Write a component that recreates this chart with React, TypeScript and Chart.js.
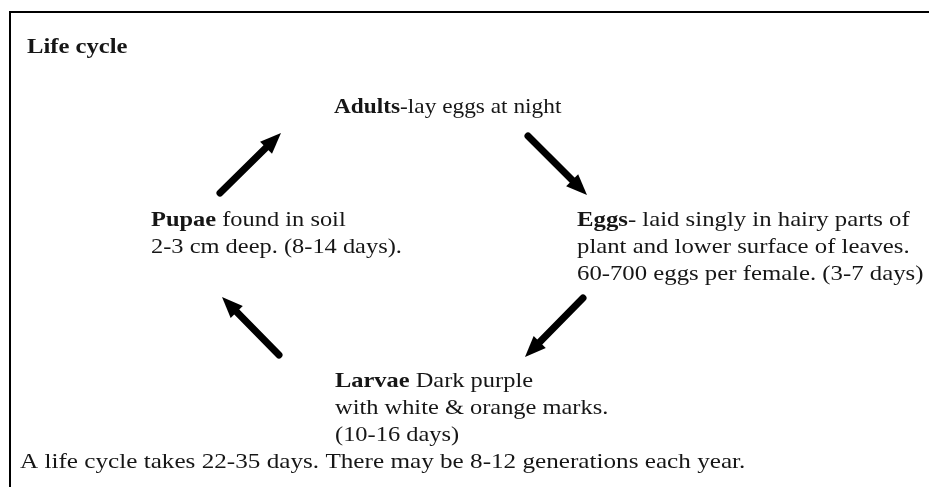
import React, { useEffect, useRef } from "react";
import { Chart, registerables } from "chart.js";

Chart.register(...registerables);

// ---- content ----
const titleText = "Life cycle";
const stageBold = ["Adults", "Eggs", "Larvae", "Pupae"];
const stageLines: string[][] = [
  ["-lay eggs at night"],
  [
    "- laid singly in hairy parts of",
    "plant and lower surface of leaves.",
    "60-700 eggs per female. (3-7 days)",
  ],
  [" Dark purple", "with white & orange marks.", "(10-16 days)"],
  [" found in soil", "2-3 cm deep. (8-14 days)."],
];
const footnote =
  "A life cycle takes 22-35 days. There may be 8-12 generations each year.";

// anchor points of each stage label (diagram coordinates)
const stageX = [334, 577, 335, 151];
const stageY = [106, 219, 380, 219];
const titleX = 27;
const titleY = 46;
const footX = 20;
const footY = 461;

// arrows: tail -> tip (diagram coordinates)
const arrowTailX = [220, 528, 583, 279];
const arrowTailY = [193, 136, 298, 355];
const arrowTipX = [281, 587, 525, 222];
const arrowTipY = [133, 195, 357, 297];

// ---- layout / style ----
const W = 929;
const H = 487;
const FONT = '"Liberation Serif", "Times New Roman", serif';
const FONT_SIZE = 22;
const LINE_GAP = 27;
const BASE_OFFSET = 7;
const TEXT_COLOR = "#161616";
const stageStretch = [1.06, 1.125, 1.11, 1.11];
const titleStretch = 1.12;
const footStretch = 1.144;

function drawStretched(ctx: any, text: string, x: number, y: number, sx: number) {
  ctx.save();
  ctx.translate(x, y);
  ctx.scale(sx, 1);
  ctx.fillText(text, 0, 0);
  ctx.restore();
  return ctx.measureText(text).width * sx;
}

const diagramPlugin = {
  id: "diagram",
  beforeDraw(chart: any) {
    const ctx = chart.ctx;
    ctx.save();
    ctx.fillStyle = "#ffffff";
    ctx.fillRect(0, 0, chart.width, chart.height);
    // frame (top and left edges)
    ctx.fillStyle = "#000";
    ctx.fillRect(9, 11, chart.width - 9, 2);
    ctx.fillRect(9, 11, 2, chart.height - 11);
    ctx.restore();
  },
  afterDatasetsDraw(chart: any) {
    const ctx = chart.ctx;
    const xs = chart.scales.x;
    const ys = chart.scales.y;
    const px = (v: number) => xs.getPixelForValue(v);
    const py = (v: number) => ys.getPixelForValue(v);

    // arrows
    ctx.save();
    ctx.fillStyle = "#000";
    ctx.strokeStyle = "#000";
    for (let i = 0; i < arrowTailX.length; i++) {
      const x0 = px(arrowTailX[i]);
      const y0 = py(arrowTailY[i]);
      const x1 = px(arrowTipX[i]);
      const y1 = py(arrowTipY[i]);
      const ang = Math.atan2(y1 - y0, x1 - x0);
      const headLen = 21;
      const headHalf = 8.5;
      const bx = x1 - Math.cos(ang) * headLen;
      const by = y1 - Math.sin(ang) * headLen;
      ctx.lineWidth = 7;
      ctx.lineCap = "round";
      ctx.beginPath();
      ctx.moveTo(x0, y0);
      ctx.lineTo(bx + Math.cos(ang) * 2, by + Math.sin(ang) * 2);
      ctx.stroke();
      const nx = -Math.sin(ang);
      const ny = Math.cos(ang);
      ctx.beginPath();
      ctx.moveTo(x1, y1);
      ctx.lineTo(bx + nx * headHalf, by + ny * headHalf);
      ctx.lineTo(bx - nx * headHalf, by - ny * headHalf);
      ctx.closePath();
      ctx.fill();
    }
    ctx.restore();

    // text
    ctx.save();
    ctx.fillStyle = TEXT_COLOR;
    ctx.textBaseline = "alphabetic";
    ctx.textAlign = "left";
    const bold = `bold ${FONT_SIZE}px ${FONT}`;
    const reg = `${FONT_SIZE}px ${FONT}`;

    ctx.font = bold;
    drawStretched(ctx, titleText, px(titleX), py(titleY) + BASE_OFFSET, titleStretch);

    for (let i = 0; i < stageBold.length; i++) {
      const x = px(stageX[i]);
      const y = py(stageY[i]) + BASE_OFFSET;
      const sx = stageStretch[i];
      ctx.font = bold;
      const bw = drawStretched(ctx, stageBold[i], x, y, sx);
      ctx.font = reg;
      drawStretched(ctx, stageLines[i][0], x + bw, y, sx);
      for (let j = 1; j < stageLines[i].length; j++) {
        drawStretched(ctx, stageLines[i][j], x, y + j * LINE_GAP, sx);
      }
    }
    ctx.font = reg;
    drawStretched(ctx, footnote, px(footX), py(footY) + BASE_OFFSET, footStretch);
    ctx.restore();
  },
};

export default function App() {
  const ref = useRef<HTMLCanvasElement>(null);
  useEffect(() => {
    if (!ref.current) return;
    const chart = new Chart(ref.current, {
      type: "scatter",
      data: {
        datasets: [
          {
            label: "arrow tails",
            data: arrowTailX.map((x, i) => ({ x, y: arrowTailY[i] })),
            pointRadius: 0,
            showLine: false,
          },
          {
            label: "arrow tips",
            data: arrowTipX.map((x, i) => ({ x, y: arrowTipY[i] })),
            pointRadius: 0,
            showLine: false,
          },
        ],
      },
      options: {
        animation: false,
        responsive: false,
        devicePixelRatio: 1,
        layout: { padding: 0 },
        plugins: {
          legend: { display: false },
          tooltip: { enabled: false },
          title: { display: false },
        },
        scales: {
          x: { type: "linear", min: 0, max: W, display: false },
          y: { type: "linear", min: 0, max: H, reverse: true, display: false },
        },
      },
      plugins: [diagramPlugin],
    });
    return () => chart.destroy();
  }, []);
  return (
    <div
      style={{
        position: "fixed",
        left: 0,
        top: 0,
        width: W,
        height: H,
        background: "#fff",
      }}
    >
      <canvas ref={ref} width={W} height={H} style={{ display: "block" }} />
    </div>
  );
}
